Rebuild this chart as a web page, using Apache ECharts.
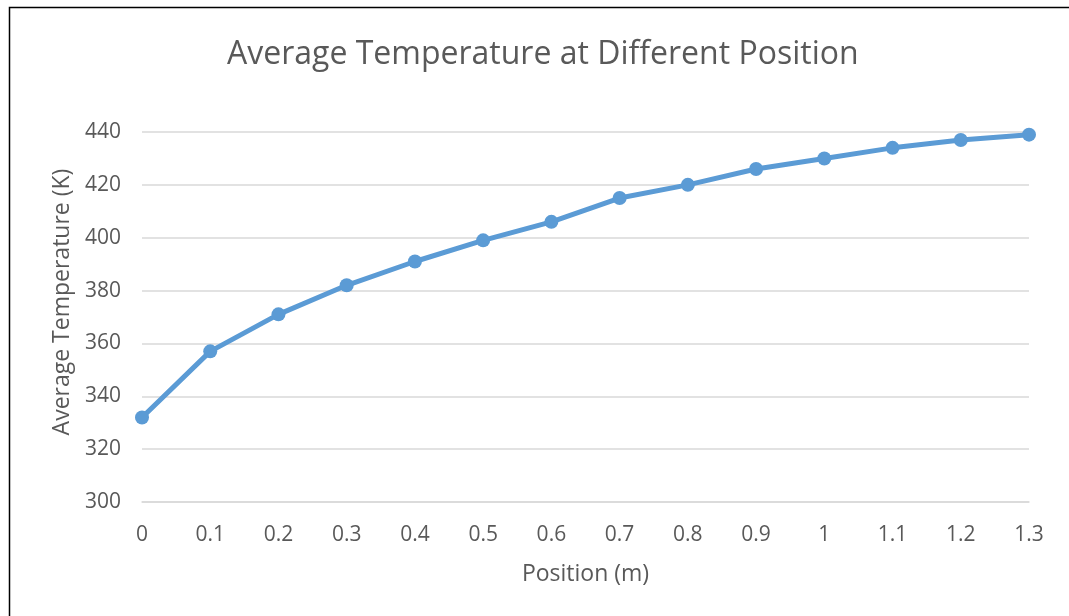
<!DOCTYPE html>
<html>
<head>
<meta charset="utf-8">
<script src="https://cdn.jsdelivr.net/npm/echarts@6/dist/echarts.min.js"></script>
<style>
  html, body { margin: 0; padding: 0; background: #fff; }
  #main { width: 1069px; height: 616px; }
</style>
</head>
<body>
<div id="main"></div>
<script>
// x positions (m) and average temperature (K)
var positions = ['0', '0.1', '0.2', '0.3', '0.4', '0.5', '0.6', '0.7', '0.8', '0.9', '1', '1.1', '1.2', '1.3'];
var temps = [332, 357, 371, 382, 391, 399, 406, 415, 420, 426, 430, 434, 437, 439];

window.onload = function () {
    var myChart = echarts.init(document.getElementById('main'));
    var font = '"Open Sans", sans-serif';
    var option = {
        backgroundColor: '#fff',
        textStyle: { fontFamily: font },
        graphic: [{
            type: 'rect',
            shape: { x: 9.5, y: 7.5, width: 1070, height: 620 },
            style: { fill: 'none', stroke: '#000', lineWidth: 1.5 },
            silent: true
        }],
        title: {
            text: 'Average Temperature at Different Position',
            left: 222,
            top: 34,
            textStyle: { fontFamily: font, fontSize: 32, fontWeight: 'normal', color: '#595959' }
        },
        grid: { left: 142, right: 40, top: 132, bottom: 114 },
        xAxis: {
            type: 'category',
            data: positions,
            boundaryGap: false,
            name: 'Position (m)',
            nameLocation: 'middle',
            nameGap: 61,
            nameTextStyle: { fontSize: 23, color: '#595959' },
            axisLine: { lineStyle: { color: '#d9d9d9', width: 1.5 } },
            axisTick: { show: false },
            axisLabel: { fontSize: 21, color: '#595959', margin: 23 }
        },
        yAxis: {
            type: 'value',
            min: 300,
            max: 440,
            interval: 20,
            name: 'Average Temperature (K)',
            nameLocation: 'middle',
            nameGap: 67,
            nameTextStyle: { fontSize: 23, color: '#595959', padding: [0, 0, 0, 30] },
            axisLine: { show: false },
            axisTick: { show: false },
            axisLabel: { fontSize: 21, color: '#595959', margin: 21 },
            splitLine: { lineStyle: { color: '#d9d9d9', width: 1.5 } }
        },
        series: [{
            type: 'line',
            data: temps,
            symbol: 'circle',
            symbolSize: 14,
            lineStyle: { color: '#5b9bd5', width: 5 },
            itemStyle: { color: '#5b9bd5' }
        }]
    };
    myChart.setOption(option);
};
</script>
</body>
</html>
